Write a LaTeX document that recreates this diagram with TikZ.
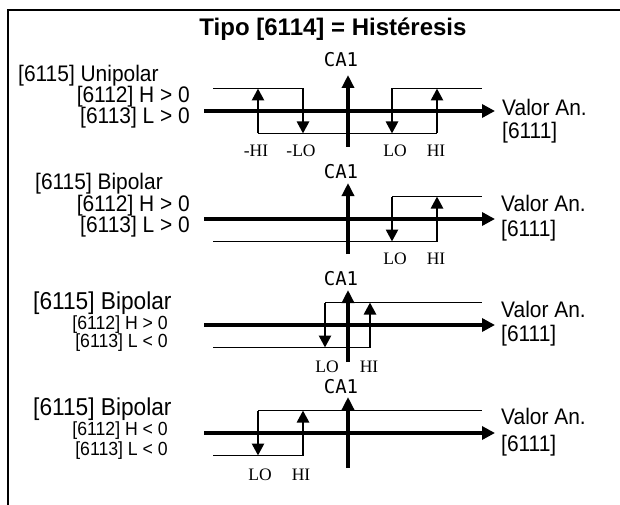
\documentclass[tikz,border=0pt]{standalone}
\usepackage{fontspec}
\setmainfont{Liberation Sans}
\newfontfamily\condfont[FakeStretch=0.93]{Liberation Sans}
\newfontfamily\thrfont{Liberation Serif}
\newfontfamily\cafont{DejaVu Sans Mono}
\usetikzlibrary{arrows.meta}
\tikzset{
  axis/.style={line width=4pt, -{Triangle[length=13pt,width=13pt]}},
  caxis/.style={line width=3.5pt, -{Triangle[length=13pt,width=12pt]}},
  band/.style={line width=1.3pt},
  jump/.style={line width=2.6pt, -{Triangle[length=12pt,width=12pt]}},
  cond/.style={font=\condfont\fontsize{22.5}{22.5}\selectfont, inner sep=0pt},
  bigcond/.style={font=\condfont\fontsize{24.4}{24.4}\selectfont, inner sep=0pt},
  subcond/.style={font=\condfont\fontsize{19}{19}\selectfont, inner sep=0pt},
  thr/.style={font=\thrfont\fontsize{17.5}{17.5}\selectfont, inner sep=0pt, anchor=base},
  calbl/.style={font=\cafont\fontsize{19}{19}\selectfont, inner sep=0pt, anchor=base},
}
\begin{document}
\begin{tikzpicture}[x=1pt,y=-1pt]
\useasboundingbox (0,0) rectangle (620,505);
\draw[line width=2pt] (8,505) -- (8,10) -- (620,10);
\node[font=\bfseries\fontsize{24}{24}\selectfont, inner sep=0pt, anchor=base] (title) at (333,35.5) {Tipo [6114] = Histéresis};

% Unipolar, H > 0, L > 0
\begin{scope}[shift={(0,111)}]
\draw[band] (213,-22.5) -- (303,-22.5);
\draw[band] (392,-22.5) -- (482,-22.5);
\draw[band] (258,22.5) -- (437,22.5);
\draw[axis] (204,0) -- (495,0);
\draw[caxis] (348,36) -- (348,-36);
\draw[jump] (258,22.5) -- (258,-22.5);
\draw[jump] (303,-22.5) -- (303,22.5);
\draw[jump] (392,-22.5) -- (392,22.5);
\draw[jump] (437,22.5) -- (437,-22.5);
\node[calbl] (ca1) at (341,-44) {CA1};
\node[cond, anchor=base west] (mode1) at (18,-29) {[6115] Unipolar};
\node[cond, anchor=base east] (hi1) at (190,-8) {[6112] H > 0};
\node[cond, anchor=base east] (lo1) at (190,13) {[6113] L > 0};
\node[cond, anchor=base west] (val1) at (502,5) {Valor An.};
\node[cond, anchor=base west] (par1) at (502,28) {[6111]};
\node[thr] (nhi1) at (256,46) {-HI};
\node[thr] (nlo1) at (301,46) {-LO};
\node[thr] (plo1) at (395,46) {LO};
\node[thr] (phi1) at (436,46) {HI};
\end{scope}

% Bipolar, H > 0, L > 0
\begin{scope}[shift={(0,219)}]
\draw[band] (392,-22.5) -- (482,-22.5);
\draw[band] (213,22.5) -- (437,22.5);
\draw[axis] (204,0) -- (495,0);
\draw[caxis] (348,35) -- (348,-36);
\draw[jump] (392,-22.5) -- (392,22.5);
\draw[jump] (437,22.5) -- (437,-22.5);
\node[calbl] (ca2) at (341,-41) {CA1};
\node[cond, anchor=base west] (mode2) at (35,-30) {[6115] Bipolar};
\node[cond, anchor=base east] (hi2) at (190,-8) {[6112] H > 0};
\node[cond, anchor=base east] (lo2) at (190,13) {[6113] L > 0};
\node[cond, anchor=base west] (val2) at (501,-8) {Valor An.};
\node[cond, anchor=base west] (par2) at (501,17) {[6111]};
\node[thr] (plo2) at (395,45) {LO};
\node[thr] (phi2) at (436,45) {HI};
\end{scope}

% Bipolar, H > 0, L < 0
\begin{scope}[shift={(0,325)}]
\draw[band] (325,-22.5) -- (482,-22.5);
\draw[band] (213,22.5) -- (370,22.5);
\draw[axis] (204,0) -- (495,0);
\draw[caxis] (348,37) -- (348,-35);
\draw[jump] (325,-22.5) -- (325,22.5);
\draw[jump] (370,22.5) -- (370,-22.5);
\node[calbl] (ca3) at (341,-40) {CA1};
\node[bigcond, anchor=base west] (mode3) at (33,-16) {[6115] Bipolar};
\node[subcond, anchor=base east] (hi3) at (168,4) {[6112] H > 0};
\node[subcond, anchor=base east] (lo3) at (168,22.5) {[6113] L < 0};
\node[cond, anchor=base west] (val3) at (501,-8) {Valor An.};
\node[cond, anchor=base west] (par3) at (501,16) {[6111]};
\node[thr] (plo3) at (327,47) {LO};
\node[thr] (phi3) at (369,47) {HI};
\end{scope}

% Bipolar, H < 0, L < 0
\begin{scope}[shift={(0,433)}]
\draw[band] (258,-22.5) -- (482,-22.5);
\draw[band] (213,22.5) -- (303,22.5);
\draw[axis] (204,0) -- (495,0);
\draw[caxis] (348,35) -- (348,-36);
\draw[jump] (258,-22.5) -- (258,22.5);
\draw[jump] (303,22.5) -- (303,-22.5);
\node[calbl] (ca4) at (341,-40) {CA1};
\node[bigcond, anchor=base west] (mode4) at (33,-18) {[6115] Bipolar};
\node[subcond, anchor=base east] (hi4) at (168,2) {[6112] H < 0};
\node[subcond, anchor=base east] (lo4) at (168,22.5) {[6113] L < 0};
\node[cond, anchor=base west] (val4) at (501,-9) {Valor An.};
\node[cond, anchor=base west] (par4) at (501,18) {[6111]};
\node[thr] (plo4) at (260,47) {LO};
\node[thr] (phi4) at (301,47) {HI};
\end{scope}
\end{tikzpicture}
\end{document}
